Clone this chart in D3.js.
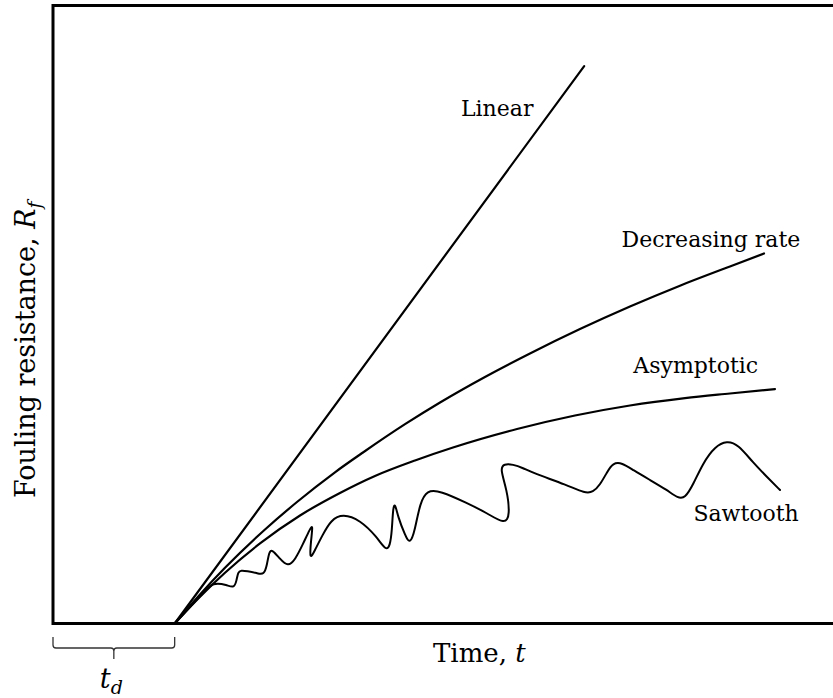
<!DOCTYPE html>
<html>
<head>
<meta charset="utf-8">
<script src="https://cdn.jsdelivr.net/npm/d3@7"></script>
<style>
  html, body { margin: 0; padding: 0; background: #fff; }
  svg { display: block; }
  text { font-family: "DejaVu Serif", serif; fill: #000; }
</style>
</head>
<body>
<svg id="chart" width="833" height="698"></svg>
<script>
// Fouling resistance vs time: the four classic fouling curves after a delay time t_d.
// Time and resistance are in arbitrary units (0–100 on each axis).

const delayTime = 15.6;

const linear = [[15.6, 0], [68.1, 90.2]];

const decreasingRate = [
  [15.6, 0], [18.85, 4.71], [22.05, 9.01], [27.18, 15.21], [31.28, 19.66],
  [36.15, 24.47], [39.74, 27.67], [45.13, 32.25], [49.62, 35.76], [55.38, 39.89],
  [61.15, 43.69], [67.56, 47.64], [73.97, 51.29], [80.38, 54.66], [86.79, 57.77],
  [91.15, 59.87]
];

const asymptotic = [
  [15.6, 0], [18.85, 4.34], [22.05, 8.22], [26.54, 12.96], [31.67, 17.48],
  [36.79, 21.12], [41.28, 23.87], [46.41, 26.38], [51.28, 28.48], [59.49, 31.47],
  [66.92, 33.66], [73.97, 35.28], [81.03, 36.47], [86.79, 37.22], [92.56, 37.94]
];

const sawtooth = [
  [15.6, 0], [17.56, 2.67], [19.23, 4.94], [20.51, 6.72], [22.31, 6.23],
  [23.21, 5.73], [23.53, 6.88], [23.72, 8.37], [24.10, 8.60], [24.87, 8.50],
  [26.15, 8.17], [27.05, 7.83], [27.44, 9.47], [27.69, 11.55], [28.08, 12.03],
  [29.10, 10.44], [30.13, 9.19], [31.03, 10.28], [32.05, 12.86], [32.95, 15.33],
  [33.33, 16.00], [33.08, 13.51], [32.88, 10.14], [33.59, 11.89], [34.49, 14.16],
  [35.64, 16.79], [37.18, 17.76], [39.36, 16.75], [41.54, 14.00], [42.69, 11.76],
  [43.21, 12.54], [43.46, 15.13], [43.59, 18.67], [43.84, 19.57], [44.23, 17.23],
  [45.13, 14.32], [45.77, 12.73], [46.41, 15.13], [47.05, 19.50], [47.95, 21.58],
  [49.62, 21.48], [53.08, 19.50], [55.64, 17.88], [57.95, 16.02], [58.59, 17.56],
  [58.21, 21.60], [57.31, 25.04], [57.82, 25.85], [58.97, 25.75], [60.26, 25.16],
  [61.54, 24.35], [65.90, 22.41], [68.21, 21.08], [69.23, 21.24], [70.13, 22.41],
  [71.03, 24.51], [71.79, 26.01], [72.95, 26.01], [74.36, 24.84], [76.54, 23.22],
  [78.72, 21.60], [80.13, 20.27], [81.03, 20.27], [82.05, 22.41], [83.33, 25.97],
  [84.87, 28.66], [86.41, 29.57], [87.82, 28.98], [89.74, 26.05], [91.54, 23.71],
  [93.21, 21.60]
];

const seriesNames = ["Linear", "Decreasing rate", "Asymptotic", "Sawtooth"];
const xTitle = "Time, ";
const xTitleSymbol = "t";
const yTitle = "Fouling resistance, ";
const yTitleSymbol = "R";
const yTitleSub = "f";
const delaySymbol = "t";
const delaySub = "d";

const svg = d3.select("#chart");

const x = d3.scaleLinear().domain([0, 100]).range([53, 833]);
const y = d3.scaleLinear().domain([0, 100]).range([623.5, 5.5]);

// Frame: top edge, left edge and the time axis
svg.append("path")
  .attr("d", `M${x(100)},${y(100)}H${x(0)}V${y(0)}H${x(100)}`)
  .attr("fill", "none")
  .attr("stroke", "#000")
  .attr("stroke-width", 3)
  .attr("stroke-linejoin", "miter");

const monotoneLine = d3.line()
  .x(d => x(d[0]))
  .y(d => y(d[1]))
  .curve(d3.curveMonotoneX);

const wavyLine = d3.line()
  .x(d => x(d[0]))
  .y(d => y(d[1]))
  .curve(d3.curveBasis);

const straightLine = d3.line()
  .x(d => x(d[0]))
  .y(d => y(d[1]));

const curves = svg.append("g")
  .attr("fill", "none")
  .attr("stroke", "#000")
  .attr("stroke-width", 2.2)
  .attr("stroke-linecap", "round")
  .attr("stroke-linejoin", "round");

curves.append("path").attr("d", straightLine(linear));
curves.append("path").attr("d", monotoneLine(decreasingRate));
curves.append("path").attr("d", monotoneLine(asymptotic));
curves.append("path").attr("d", wavyLine(sawtooth)).attr("stroke-width", 2);

// Curve labels, anchored in data coordinates
const labelAnchors = [[52.3, 82.1], [72.9, 60.9], [74.4, 40.5], [82.1, 16.6]];
svg.append("g")
  .selectAll("text")
  .data(seriesNames)
  .join("text")
  .attr("x", (d, i) => x(labelAnchors[i][0]))
  .attr("y", (d, i) => y(labelAnchors[i][1]))
  .attr("font-size", 22)
  .text(d => d);

// Axis titles
const xt = svg.append("text")
  .attr("x", 433)
  .attr("y", 662)
  .attr("font-size", 26);
xt.append("tspan").text(xTitle);
xt.append("tspan").attr("font-style", "italic").text(xTitleSymbol);

const yt = svg.append("text")
  .attr("transform", "translate(35,498) rotate(-90)")
  .attr("font-size", 27);
yt.append("tspan").text(yTitle);
yt.append("tspan").attr("font-style", "italic").text(yTitleSymbol);
yt.append("tspan").attr("font-style", "italic").attr("font-size", 19)
  .attr("dy", 6).text(yTitleSub);

// Brace marking the delay time t_d
const bx0 = x(0), bx1 = x(delayTime), bm = (bx0 + bx1) / 2;
const by0 = 637, by1 = 648, r = 3;
svg.append("path")
  .attr("d", `M${bx0},${by0}V${by1 - r}Q${bx0},${by1} ${bx0 + r},${by1}` +
             `H${bm - r}Q${bm},${by1} ${bm},${by1 + r}V${by1 + 11}` +
             `M${bm},${by1 + r}Q${bm},${by1} ${bm + r},${by1}` +
             `H${bx1 - r}Q${bx1},${by1} ${bx1},${by1 - r}V${by0}`)
  .attr("fill", "none")
  .attr("stroke", "#333")
  .attr("stroke-width", 1.3);

const td = svg.append("text")
  .attr("x", bm - 14)
  .attr("y", 688)
  .attr("font-size", 27)
  .attr("font-style", "italic");
td.append("tspan").text(delaySymbol);
td.append("tspan").attr("font-size", 19).attr("dy", 6).text(delaySub);
</script>
</body>
</html>
